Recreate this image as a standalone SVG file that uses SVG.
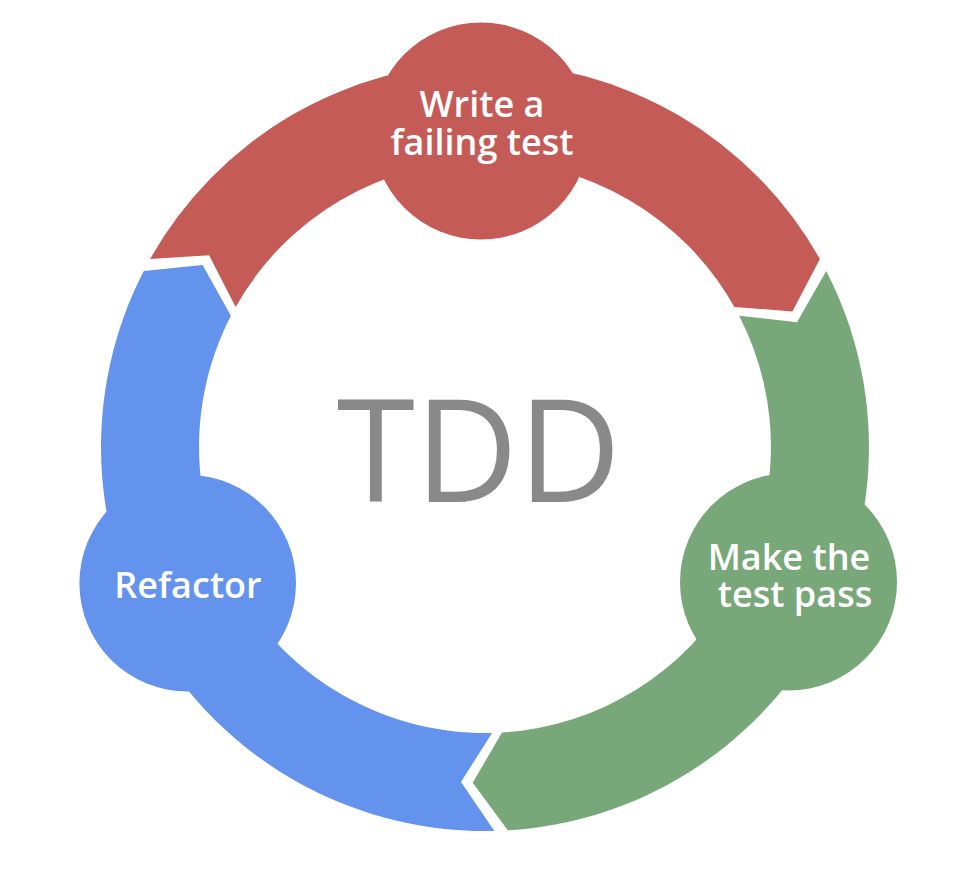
<svg xmlns="http://www.w3.org/2000/svg" width="972" height="882" viewBox="0 0 972 882">
<style>
.red{fill:#C55B57}
.green{fill:#78A77A}
.blue{fill:#6493EE}
.lbl{font-family:"Open Sans","Noto Sans",sans-serif;font-weight:600;font-size:36px;fill:#FFFFFF;text-anchor:middle}
.title{font-family:"Open Sans","Noto Sans",sans-serif;font-weight:400;font-size:142px;fill:#898989;text-anchor:middle}
</style>
<rect width="972" height="882" fill="#FFFFFF"/>
<g id="connectors">
<path id="arc-red" class="red" d="M150.1,259.1 A384,384 0 0 1 819.9,259.1 L792.4,311.4 L734.4,307.0 A286,286 0 0 0 235.6,307.0 L209.1,255.2 Z"/>
<path id="arc-green" class="green" d="M826.2,270.9 A384,384 0 0 1 507.8,830.3 L472.7,782.8 L502.0,732.5 A286,286 0 0 0 739.1,315.8 L797.0,322.2 Z"/>
<path id="arc-blue" class="blue" d="M494.4,830.9 A384,384 0 0 1 143.8,270.9 L202.6,265.0 L230.9,315.8 A286,286 0 0 0 492.0,732.9 L461.0,782.1 Z"/>
</g>
<g id="node-write">
<circle class="red" cx="481" cy="131" r="108.5"/>
<text class="lbl"><tspan x="482" y="117">Write a</tspan><tspan x="482" y="155">failing test</tspan></text>
</g>
<g id="node-pass">
<circle class="green" cx="788.5" cy="582" r="108.5"/>
<text class="lbl"><tspan x="789" y="570">Make the</tspan><tspan x="795" y="607">test pass</tspan></text>
</g>
<g id="node-refactor">
<circle class="blue" cx="187.7" cy="583.3" r="108.3"/>
<text class="lbl" x="188" y="598">Refactor</text>
</g>
<g id="node-tdd">
<text class="title" x="479" y="502">TDD</text>
</g>
</svg>
